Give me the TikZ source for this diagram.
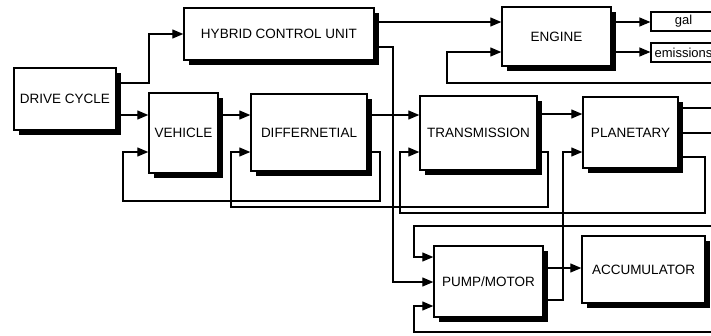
\documentclass[tikz,border=0pt]{standalone}
\usepackage{fontspec}
\setmainfont{Liberation Sans}
\usetikzlibrary{arrows.meta,shadows}
\begin{document}
\begin{tikzpicture}[x=1pt,y=-1pt,
  blk/.style={draw=black,line width=1.4pt,fill=white,inner sep=0pt,
    font=\fontsize{13.5}{15}\selectfont,
    drop shadow={shadow xshift=5pt,shadow yshift=-5pt,fill=black,opacity=1}},
  outbox/.style={draw=black,line width=1.2pt,fill=white,inner sep=0pt,
    font=\fontsize{13}{15}\selectfont},
  arr/.style={line width=1.2pt,-{Triangle[length=11pt,width=9pt]}},
  ln/.style={line width=1.2pt}]
\useasboundingbox (0,0) rectangle (711,335);
\clip (0,0) rectangle (711,335);
% blocks
\node[blk,minimum width=102pt,minimum height=62pt] (dc) at (65,99) {DRIVE CYCLE};
\node[blk,minimum width=190pt,minimum height=52pt] (hcu) at (279,34) {HYBRID CONTROL UNIT};
\node[blk,minimum width=69pt,minimum height=80pt] (veh) at (183.5,133) {VEHICLE};
\node[blk,minimum width=116pt,minimum height=77pt] (diff) at (309,132.5) {DIFFERNETIAL};
\node[blk,minimum width=109pt,minimum height=59pt] (eng) at (556.5,36.5) {ENGINE};
\node[blk,minimum width=117pt,minimum height=74pt] (trans) at (478.5,133) {TRANSMISSION};
\node[blk,minimum width=95pt,minimum height=71pt] (plan) at (630.5,132.5) {PLANETARY};
\node[blk,minimum width=109pt,minimum height=71pt] (pump) at (488.5,281.5) {PUMP/MOTOR};
\node[blk,minimum width=123pt,minimum height=67pt] (acc) at (643.5,269.5) {ACCUMULATOR};
\node[outbox,minimum width=65pt,minimum height=19pt] (gal) at (683.5,21.5) {gal};
\node[outbox,minimum width=65pt,minimum height=19pt] (emis) at (683.5,52.5) {emissions};
% free ends at the right edge
\coordinate (engFb) at (712,83);
\coordinate (planO1) at (712,108);
\coordinate (planO2) at (712,133);
\coordinate (pumpFbA) at (712,226);
\coordinate (pumpFbB) at (712,332);
% connectors
\draw[arr] (dc.east |- 0,83) -- (149,83) |- (hcu.west);
\draw[arr] (dc.east |- 0,115) -- (veh.west |- 0,115);
\draw[arr] (hcu.east |- 0,22) -- (eng.west |- 0,22);
\draw[arr] (hcu.east |- 0,47) -| (393,282) -- (pump.west |- 0,282);
\draw[arr] (veh.east |- 0,115) -- (diff.west |- 0,115);
\draw[arr] (diff.east |- 0,115) -- (trans.west |- 0,115);
\draw[arr] (diff.east |- 0,152) -| (380,201) -| (123,152) -- (veh.west |- 0,152);
\draw[arr] (trans.east |- 0,114) -- (plan.west |- 0,114);
\draw[arr] (trans.east |- 0,152) -| (548,207) -| (231,152) -- (diff.west |- 0,152);
\draw[arr] (plan.east |- 0,157) -| (705,213) -| (400,152) -- (trans.west |- 0,152);
\draw[ln] (plan.east |- 0,108) -- (planO1);
\draw[ln] (plan.east |- 0,133) -- (planO2);
\draw[arr] (eng.east |- 0,22) -- (gal.west |- 0,22);
\draw[arr] (eng.east |- 0,52) -- (emis.west |- 0,52);
\draw[arr] (engFb) -| (447,52) -- (eng.west |- 0,52);
\draw[arr] (pumpFbA) -| (414,257) -- (pump.west |- 0,257);
\draw[arr] (pumpFbB) -| (414,306) -- (pump.west |- 0,306);
\draw[arr] (pump.east |- 0,268) -- (acc.west |- 0,268);
\draw[arr] (pump.east |- 0,300) -| (563,152) -- (plan.west |- 0,152);
\end{tikzpicture}
\end{document}
